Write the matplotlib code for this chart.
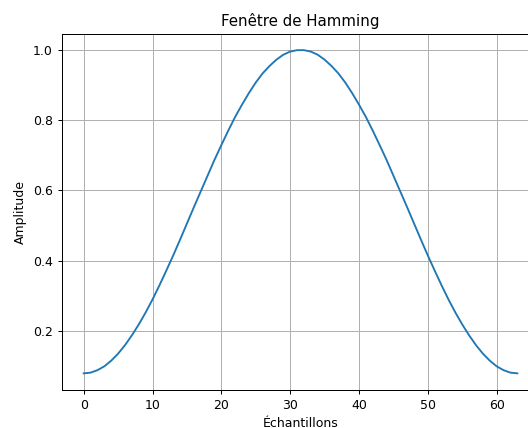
import numpy as np
import matplotlib
matplotlib.use('Agg')
import matplotlib.pyplot as plt

# Valeurs (première moitié, la fenêtre est symétrique)
premiere_moitie = [0.080, 0.082, 0.089, 0.100, 0.116, 0.136, 0.160, 0.188,
                   0.219, 0.253, 0.290, 0.330, 0.372, 0.415, 0.460, 0.506,
                   0.552, 0.597, 0.642, 0.687, 0.729, 0.770, 0.809, 0.844,
                   0.877, 0.907, 0.933, 0.954, 0.972, 0.986, 0.995, 0.999]
amplitude = premiere_moitie + premiere_moitie[::-1]
echantillons = list(range(len(amplitude)))

# Le rendu de référence est un peu réduit (~0.9)
plt.rcParams.update({
    'font.size': 9,
    'lines.linewidth': 1.35,
    'axes.linewidth': 0.72,
    'xtick.major.size': 3.15,
    'ytick.major.size': 3.15,
    'xtick.major.width': 0.72,
    'ytick.major.width': 0.72,
    'grid.linewidth': 0.72,
})

fig = plt.figure(figsize=(5.28, 4.28), dpi=100)
# l'axe déborde à droite, comme sur l'image d'origine (recadrée)
ax = fig.add_axes([62 / 528, 1 - 389.5 / 428, 477 / 528, 355.5 / 428])

ax.plot(echantillons, amplitude)

ax.set_title('Fenêtre de Hamming')
ax.set_xlabel('Échantillons')
ax.set_ylabel('Amplitude')
ax.grid(True)

plt.savefig('out.png')
